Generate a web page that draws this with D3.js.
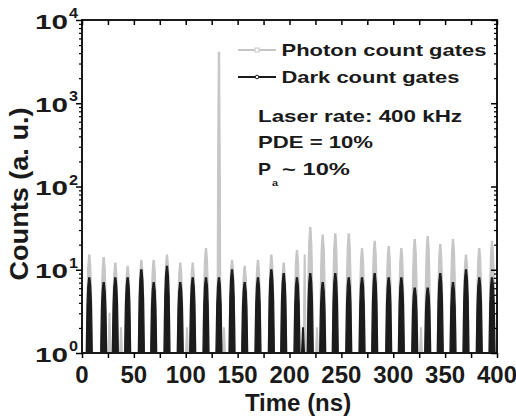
<!DOCTYPE html>
<html>
<head>
<meta charset="utf-8">
<script src="https://cdn.jsdelivr.net/npm/d3@7"></script>
<style>
  body { margin: 0; background: #fff; }
  text { font-family: "Liberation Sans", Arial, sans-serif; font-weight: bold; fill: #1a1a1a; }
</style>
</head>
<body>
<div id="chart"></div>
<script>
// gate centres (ns) and peak counts
const gateTimes = [7.0, 20.9, 32.1, 44.0, 57.2, 69.1, 81.9, 94.7, 106.7, 119.5, 132.0, 144.6,
  156.8, 169.6, 182.5, 194.4, 207.2, 220.0, 232.0, 244.1, 257.1, 269.9, 282.1, 295.6,
  307.8, 320.7, 333.2, 345.3, 357.6, 370.1, 382.9, 395.2];
const photonPeaks = [15, 14, 12, 11, 13, 13, 15, 12, 12, 18, 4100, 13, 11, 13, 15, 12,
  17, 32, 26, 27, 27, 18, 22, 19, 18, 23, 25, 20, 23, 15, 18, 22];
const darkPeaks = [8, 7, 8, 8, 10, 7, 11, 7, 8, 8, 8, 10, 7, 8, 10, 9,
  8, 9, 7, 9, 8, 8, 9, 8, 8, 6, 6, 9, 7, 10, 8, 8];
// small extra bins between gates
const photonExtraTimes = [26.5, 37.6, 101.2, 136.9, 214.6, 226.5, 326.7];
const photonExtraCounts = [3, 2, 2, 2, 15, 2, 2];
const darkExtraTimes = [213.0];
const darkExtraCounts = [2];

const xTicks = [0, 50, 100, 150, 200, 250, 300, 350, 400];
const xMinorTicks = d3.range(0, 401, 25);
const yExponents = [0, 1, 2, 3, 4];
const legendLabels = ["Photon count gates", "Dark count gates"];
const noteLines = ["Laser rate: 400 kHz", "PDE = 10%"];

var margin = { top: 20, right: 19, bottom: 65, left: 82 },
  width = 516 - margin.left - margin.right,
  height = 418 - margin.top - margin.bottom;

var svg = d3.select("#chart").append("svg")
  .attr("width", 516).attr("height", 418);
var g = svg.append("g")
  .attr("transform", "translate(" + margin.left + "," + margin.top + ")");

var x = d3.scaleLinear().domain([0, 400]).range([0, width]);
var y = d3.scaleLog().domain([1, 10000]).range([height, 0]);

g.append("clipPath").attr("id", "clip")
  .append("rect").attr("width", width).attr("height", height + 2).attr("y", -2);

// pulse outline: [fraction of pulse height, half width in px]
var domeShape = [[0, 3.0], [0.35, 2.6], [0.65, 2.2], [0.88, 1.5], [1, 0.6]];
var spikeShape = [[0, 3.0], [0.12, 1.8], [0.6, 1.3], [1, 0.6]];
var thinShape = [[0, 1.4], [1, 0.4]];

function pulse(t, v, shape) {
  var cx = x(t), y0 = y(1), y1 = y(v);
  var left = shape.map(s => [cx - s[1], y0 + s[0] * (y1 - y0)]);
  var right = shape.slice().reverse().map(s => [cx + s[1], y0 + s[0] * (y1 - y0)]);
  return left.concat(right);
}

function buildPoints(times, peaks, extraT, extraV) {
  var pulses = [];
  times.forEach(function (t, i) {
    pulses.push({ t: t, pts: pulse(t, peaks[i], peaks[i] > 100 ? spikeShape : domeShape) });
  });
  extraT.forEach(function (t, i) {
    pulses.push({ t: t, pts: pulse(t, extraV[i], thinShape) });
  });
  pulses.sort((a, b) => a.t - b.t);
  var pts = [[x(0), y(1)]];
  pulses.forEach(p => { pts = pts.concat(p.pts); });
  pts.push([x(400), y(1)]);
  return pts;
}

var photonPts = buildPoints(gateTimes, photonPeaks, photonExtraTimes, photonExtraCounts);
var darkPts = buildPoints(gateTimes, darkPeaks, darkExtraTimes, darkExtraCounts);

var area = d3.area().x(d => d[0]).y0(y(1)).y1(d => d[1]);
var line = d3.line().x(d => d[0]).y(d => d[1]);

var plot = g.append("g").attr("clip-path", "url(#clip)");
plot.append("path").datum(photonPts).attr("d", area).attr("fill", "#c6c6c6");
plot.append("path").datum(photonPts).attr("d", line)
  .attr("fill", "none").attr("stroke", "#c6c6c6").attr("stroke-width", 1.2);
plot.append("path").datum(darkPts).attr("d", area).attr("fill", "#1c1c1c");
plot.append("path").datum(darkPts).attr("d", line)
  .attr("fill", "none").attr("stroke", "#1c1c1c").attr("stroke-width", 1.2);

// frame
g.append("rect").attr("width", width).attr("height", height)
  .attr("fill", "none").attr("stroke", "#1a1a1a").attr("stroke-width", 2);

// x ticks: bottom outward, top inward
g.append("g").attr("transform", "translate(0," + height + ")")
  .call(d3.axisBottom(x).tickValues(xMinorTicks).tickSize(5).tickFormat(""))
  .call(a => a.select(".domain").remove())
  .selectAll("line").attr("stroke-width", 1.5);
g.append("g")
  .call(d3.axisBottom(x).tickValues(xMinorTicks).tickSize(5).tickFormat(""))
  .call(a => a.select(".domain").remove())
  .selectAll("line").attr("stroke-width", 1.5);

g.selectAll(".xlab").data(xTicks).enter().append("text")
  .attr("class", "xlab")
  .attr("x", d => x(d)).attr("y", height + 30)
  .attr("text-anchor", "middle").style("font-size", "24px")
  .text(d => d);

// y ticks: left outward, right inward
var minorY = [];
yExponents.slice(0, -1).forEach(function (e) {
  for (var k = 2; k < 10; k++) minorY.push(k * Math.pow(10, e));
});
var majorY = yExponents.map(e => Math.pow(10, e));
g.append("g")
  .call(d3.axisLeft(y).tickValues(majorY).tickSize(6).tickFormat(""))
  .call(a => a.select(".domain").remove())
  .selectAll("line").attr("stroke-width", 1.5);
g.append("g")
  .call(d3.axisLeft(y).tickValues(minorY).tickSize(3).tickFormat(""))
  .call(a => a.select(".domain").remove())
  .selectAll("line").attr("stroke-width", 1.2);
g.append("g").attr("transform", "translate(" + width + ",0)")
  .call(d3.axisLeft(y).tickValues(majorY).tickSize(6).tickFormat(""))
  .call(a => a.select(".domain").remove())
  .selectAll("line").attr("stroke-width", 1.5);
g.append("g").attr("transform", "translate(" + width + ",0)")
  .call(d3.axisLeft(y).tickValues(minorY).tickSize(3).tickFormat(""))
  .call(a => a.select(".domain").remove())
  .selectAll("line").attr("stroke-width", 1.2);

var ylab = g.selectAll(".ylab").data(yExponents).enter().append("g").attr("class", "ylab");
ylab.append("text")
  .attr("x", -14).attr("y", d => y(Math.pow(10, d)) + 8.5)
  .attr("text-anchor", "end").style("font-size", "21px")
  .attr("textLength", 33).attr("lengthAdjust", "spacingAndGlyphs")
  .text("10");
ylab.append("text")
  .attr("x", -13).attr("y", d => y(Math.pow(10, d)) - 2)
  .style("font-size", "14px")
  .attr("textLength", 9).attr("lengthAdjust", "spacingAndGlyphs")
  .text(d => d);

// axis titles
svg.append("text")
  .attr("x", 298).attr("y", 411)
  .attr("text-anchor", "middle").style("font-size", "24px")
  .text("Time (ns)");
svg.append("text")
  .attr("transform", "translate(28," + 194 + ") rotate(-90)")
  .attr("text-anchor", "middle").style("font-size", "26px")
  .attr("textLength", 173).attr("lengthAdjust", "spacingAndGlyphs")
  .text("Counts (a. u.)");

// legend
var legColors = ["#c6c6c6", "#1a1a1a"];
var legY = [50, 77];
legendLabels.forEach(function (lab, i) {
  svg.append("line").attr("x1", 238).attr("x2", 276)
    .attr("y1", legY[i]).attr("y2", legY[i])
    .attr("stroke", legColors[i]).attr("stroke-width", 2);
  svg.append("text").attr("x", 281.5).attr("y", legY[i] + 5.5)
    .style("font-size", "17px")
    .attr("textLength", i === 0 ? 205 : 178).attr("lengthAdjust", "spacingAndGlyphs")
    .text(lab);
});
svg.append("rect").attr("x", 255).attr("y", 48).attr("width", 4).attr("height", 4)
  .attr("fill", "#fff").attr("stroke", "#c6c6c6").attr("stroke-width", 1);
svg.append("circle").attr("cx", 257).attr("cy", 77).attr("r", 1.8)
  .attr("fill", "#fff").attr("stroke", "#1a1a1a").attr("stroke-width", 1);

// notes
var noteY = [121.5, 148];
var noteW = [204, 115];
noteLines.forEach(function (t, i) {
  svg.append("text").attr("x", 258).attr("y", noteY[i])
    .style("font-size", "17px")
    .attr("textLength", noteW[i]).attr("lengthAdjust", "spacingAndGlyphs")
    .text(t);
});
svg.append("text").attr("x", 258).attr("y", 175).style("font-size", "17px")
  .attr("textLength", 13).attr("lengthAdjust", "spacingAndGlyphs").text("P");
svg.append("text").attr("x", 272).attr("y", 185.5).style("font-size", "9px")
  .attr("textLength", 6).attr("lengthAdjust", "spacingAndGlyphs").text("a");
svg.append("text").attr("x", 282).attr("y", 175).style("font-size", "17px")
  .attr("textLength", 68).attr("lengthAdjust", "spacingAndGlyphs").text("~ 10%");
</script>
</body>
</html>
